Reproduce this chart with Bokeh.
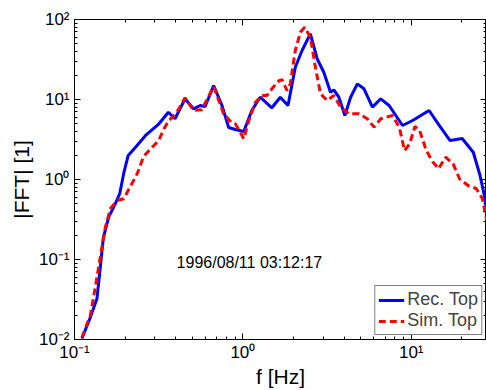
from bokeh.plotting import figure
from bokeh.models import (FixedTicker, LogAxis, CustomJSTickFormatter, Legend,
                          Label, Arrow, NormalHead)
from bokeh.embed import file_html
from bokeh.resources import INLINE

# ---- data ----
rec_f = [0.1107, 0.1241, 0.1360, 0.1423, 0.1484, 0.1596, 0.175, 0.1857, 0.196, 0.2084,
         0.2304, 0.2643, 0.3174, 0.361, 0.3954, 0.4536, 0.509, 0.5575, 0.597, 0.6707,
         0.7515, 0.8238, 0.902, 1.012, 1.130, 1.267, 1.487, 1.668, 1.854, 2.049,
         2.247, 2.518, 2.762, 3.024, 3.316, 3.47, 3.717, 4.036, 4.365, 4.786,
         5.242, 5.884, 6.59, 7.39, 8.886, 10.19, 12.76, 14.74, 17.02, 20.08,
         23.36, 25.54, 27.35, 29.1]
rec_v = [0.0103, 0.0188, 0.0326, 0.0794, 0.188, 0.338, 0.501, 0.668, 1.19, 2.0,
         2.53, 3.55, 4.97, 6.94, 5.74, 10.2, 7.65, 8.41, 8.17, 14.96,
         8.41, 4.47, 4.22, 3.98, 7.29, 10.68, 7.88, 10.68, 8.41, 25.3,
         41.0, 66.3, 32.3, 21.9, 12.34, 13.2, 10.68, 6.31, 10.68, 15.7,
         13.6, 8.02, 10.2, 8.41, 4.73, 5.46, 7.29, 4.67, 3.07, 3.25,
         2.19, 1.155, 0.596, 0.230]

sim_f = [0.1107, 0.1241, 0.1329, 0.1423, 0.1526, 0.1633, 0.1791, 0.196, 0.2130, 0.2358,
         0.2571, 0.2962, 0.3160, 0.3399, 0.3626, 0.3815, 0.4048, 0.4536, 0.509, 0.5706,
         0.6707, 0.7691, 0.862, 0.902, 0.966, 1.012, 1.084, 1.187, 1.302, 1.389,
         1.514, 1.645, 1.714, 1.828, 1.913, 2.049, 2.195, 2.329, 2.518, 2.698,
         2.89, 3.169, 3.47, 3.805, 4.265, 4.893, 5.49, 6.014, 6.59, 7.745,
         8.505, 9.13, 9.78, 10.52, 11.22, 12.29, 13.48, 14.54, 16.0, 17.74,
         19.4, 21.96, 24.33, 26.43, 28.12, 29.1]
sim_v = [0.0106, 0.020, 0.0451, 0.107, 0.254, 0.431, 0.546, 0.574, 0.794, 1.178,
         1.94, 2.66, 3.07, 4.30, 5.46, 6.01, 6.88, 10.5, 7.29, 7.43,
         14.54, 6.62, 5.06, 4.97, 3.90, 3.23, 5.46, 9.25, 11.22, 11.22,
         14.25, 17.28, 17.63, 12.96, 15.7, 41.0, 69.4, 80.1, 60.1, 25.3,
         11.78, 9.72, 11.22, 8.02, 6.62, 6.62, 5.74, 4.51, 5.74, 6.31,
         4.47, 2.30, 2.79, 4.60, 4.10, 2.30, 1.644, 1.361, 1.90, 1.57,
         1.014, 0.830, 0.772, 0.579, 0.307, 0.188]

series_names = ["Rec. Top", "Sim. Top"]
x_major = [0.1, 1, 10]
y_major = [0.01, 0.1, 1, 10, 100]
x_label = "f [Hz]"
y_label = "|FFT| [1]"
date_text = "1996/08/11 03:12:17"

FONT = "Liberation Sans"


def minors(lo, hi):
    return [k * 10.0 ** e for e in range(lo, hi) for k in range(2, 10)]


x_minor = minors(-1, 2)
y_minor = minors(-2, 2)

fmt_code = """
const sup = {"-": "\\u207B", "0": "\\u2070", "1": "\\u00B9", "2": "\\u00B2", "3": "\\u00B3",
             "4": "\\u2074", "5": "\\u2075", "6": "\\u2076", "7": "\\u2077", "8": "\\u2078", "9": "\\u2079"};
const e = Math.round(Math.log10(tick));
return "10" + String(e).split("").map(c => sup[c]).join("");
"""

p = figure(width=486, height=390, x_axis_type="log", y_axis_type="log",
           x_range=(0.1, 28), y_range=(0.01, 100),
           output_backend="svg", toolbar_location=None,
           min_border_left=74, min_border_right=0, min_border_top=19, min_border_bottom=51)
p.background_fill_color = "white"
p.border_fill_color = "white"
p.outline_line_color = "black"
p.outline_line_width = 1
p.xgrid.visible = False
p.ygrid.visible = False


def style_axis(ax, ticker, labels=True):
    ax.ticker = ticker
    ax.axis_line_color = "black"
    ax.major_tick_line_color = "black"
    ax.minor_tick_line_color = "black"
    ax.major_tick_in = 6
    ax.major_tick_out = 0
    ax.minor_tick_in = 3
    ax.minor_tick_out = 0
    if labels:
        ax.formatter = CustomJSTickFormatter(code=fmt_code)
        ax.major_label_text_font = FONT
        ax.major_label_text_font_size = "17px"
        ax.major_label_text_color = "black"
        ax.major_label_standoff = 3
        ax.axis_label_text_font = FONT
        ax.axis_label_text_font_size = "21px"
        ax.axis_label_text_font_style = "normal"
        ax.axis_label_text_color = "black"
        ax.axis_label_standoff = 0
    else:
        ax.formatter = CustomJSTickFormatter(code="return ' ';")
        ax.major_label_text_font_size = "1px"
        ax.major_label_text_alpha = 0
        ax.major_label_standoff = 0


style_axis(p.xaxis[0], FixedTicker(ticks=x_major, minor_ticks=x_minor))
style_axis(p.yaxis[0], FixedTicker(ticks=y_major, minor_ticks=y_minor))
p.xaxis[0].axis_label = x_label
p.yaxis[0].axis_label = y_label
p.yaxis[0].major_label_standoff = 5
p.yaxis[0].axis_label_standoff = 3

top = LogAxis()
style_axis(top, FixedTicker(ticks=x_major, minor_ticks=x_minor), labels=False)
p.add_layout(top, "above")
right = LogAxis()
style_axis(right, FixedTicker(ticks=y_major, minor_ticks=y_minor), labels=False)
p.add_layout(right, "right")

# partial grey arrow head cut by the left edge of the figure (decoration)
head = NormalHead(size=38, fill_color="#c0c0c0", line_color="#303030", line_width=1)
arrow = Arrow(end=head, x_start=-40, y_start=84, x_end=22, y_end=95,
              start_units="canvas", end_units="canvas", line_alpha=0)
p.add_layout(arrow)

r1 = p.line(rec_f, rec_v, line_color="#0000ff", line_width=3)
r2 = p.line(sim_f, sim_v, line_color="#ff0000", line_width=3, line_dash="7 4")

lab = Label(x=0.404, y=0.0917, text=date_text, text_font=FONT, text_font_size="16px",
            text_baseline="middle", text_align="left", text_color="black")
p.add_layout(lab)

legend = Legend(items=[(series_names[0], [r1]), (series_names[1], [r2])],
                location="bottom_right", margin=4, padding=3, spacing=0,
                label_text_font=FONT, label_text_font_size="18px",
                label_height=20, glyph_height=20, glyph_width=26, label_standoff=3,
                border_line_color="black", border_line_width=1,
                background_fill_color="white", background_fill_alpha=1.0)
p.add_layout(legend)

open("out.html", "w").write(file_html(p, INLINE))
